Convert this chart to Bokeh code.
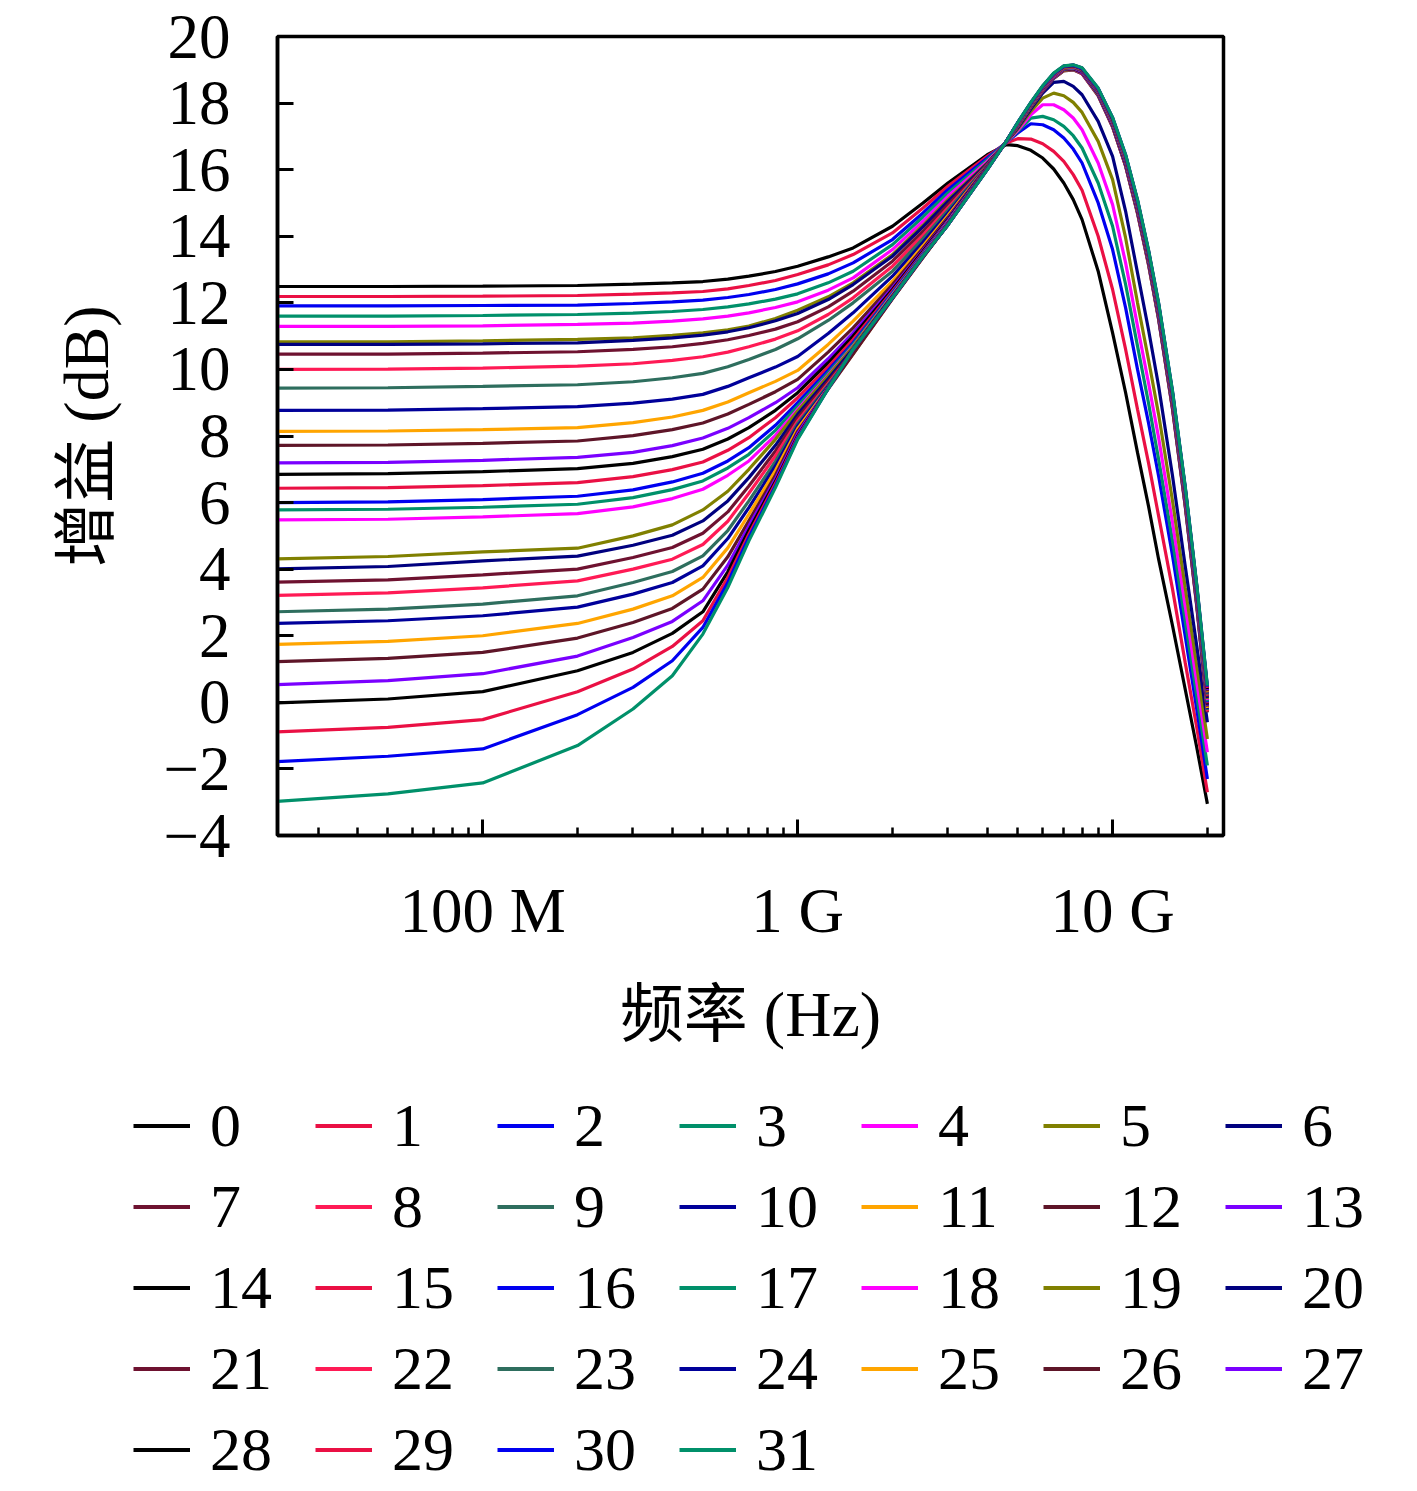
from bokeh.plotting import figure
from bokeh.embed import file_html
from bokeh.resources import INLINE
from bokeh.layouts import column
from bokeh.models import FixedTicker

# frequency points (Hz) and gain curves (dB)
freq_hz = [2.2e7, 5e7, 1e8, 2e8, 3e8, 4e8, 5e8, 6e8, 7e8, 8.5e8, 1e9, 1.25e9, 1.5e9, 2e9, 2.5e9, 3e9, 4e9,
           4.6e9, 5e9, 5.5e9, 6e9, 6.5e9, 7e9, 7.5e9, 8e9, 9e9, 1e10, 1.1e10, 1.2e10, 1.3e10, 1.4e10,
           1.55e10, 1.7e10, 1.85e10, 2e10]

g0 = [12.49, 12.49, 12.50, 12.52, 12.56, 12.60, 12.64, 12.71, 12.80, 12.94, 13.10, 13.38, 13.65, 14.30, 15.00, 15.60, 16.45,
      16.75, 16.72, 16.58, 16.35, 16.02, 15.60, 15.10, 14.50, 12.95, 11.10, 9.30, 7.50, 5.90, 4.30, 2.30, 0.40, -1.35, -3.05]
g1 = [12.19, 12.19, 12.20, 12.22, 12.26, 12.30, 12.34, 12.42, 12.52, 12.67, 12.85, 13.14, 13.45, 14.10, 14.85, 15.50, 16.40,
      16.80, 16.93, 16.92, 16.78, 16.55, 16.25, 15.85, 15.38, 14.00, 12.40, 10.60, 8.80, 7.20, 5.60, 3.40, 1.20, -0.75, -2.70]
g2 = [11.91, 11.91, 11.92, 11.93, 11.98, 12.03, 12.08, 12.16, 12.25, 12.40, 12.57, 12.87, 13.20, 13.90, 14.70, 15.40, 16.35,
      16.82, 17.10, 17.38, 17.35, 17.20, 16.95, 16.62, 16.20, 15.00, 13.60, 11.85, 10.00, 8.40, 6.80, 4.40, 2.00, -0.20, -2.30]
g3 = [11.60, 11.60, 11.62, 11.65, 11.69, 11.74, 11.80, 11.88, 11.97, 12.11, 12.27, 12.60, 12.95, 13.75, 14.58, 15.30, 16.30,
      16.82, 17.15, 17.55, 17.60, 17.50, 17.30, 17.02, 16.65, 15.60, 14.30, 12.55, 10.70, 9.00, 7.30, 4.85, 2.45, 0.20, -1.90]
g4 = [11.29, 11.29, 11.31, 11.35, 11.39, 11.45, 11.52, 11.60, 11.70, 11.86, 12.03, 12.38, 12.75, 13.60, 14.45, 15.20, 16.25,
      16.82, 17.18, 17.65, 17.95, 17.95, 17.80, 17.55, 17.20, 16.20, 14.95, 13.20, 11.30, 9.60, 7.95, 5.40, 2.90, 0.60, -1.50]
g5 = [10.83, 10.83, 10.86, 10.90, 10.95, 11.02, 11.10, 11.19, 11.30, 11.53, 11.78, 12.18, 12.60, 13.45, 14.33, 15.10, 16.20,
      16.83, 17.22, 17.75, 18.15, 18.30, 18.22, 18.02, 17.72, 16.85, 15.70, 13.95, 12.00, 10.30, 8.65, 6.05, 3.45, 1.10, -1.10]
g6 = [10.75, 10.75, 10.77, 10.80, 10.87, 10.95, 11.03, 11.13, 11.25, 11.46, 11.68, 12.10, 12.55, 13.40, 14.28, 15.05, 16.18,
      16.83, 17.26, 17.82, 18.30, 18.62, 18.65, 18.50, 18.25, 17.45, 16.40, 14.75, 12.90, 11.20, 9.50, 6.80, 4.10, 1.70, -0.60]
g7 = [10.46, 10.46, 10.49, 10.53, 10.60, 10.68, 10.78, 10.89, 11.02, 11.21, 11.43, 11.88, 12.35, 13.25, 14.15, 14.95, 16.15,
      16.84, 17.30, 17.88, 18.36, 18.74, 18.97, 19.00, 18.88, 18.22, 17.28, 16.10, 14.68, 13.15, 11.50, 8.80, 5.90, 2.90, -0.30]
g8 = [10.00, 10.01, 10.04, 10.10, 10.17, 10.27, 10.38, 10.52, 10.68, 10.91, 11.16, 11.65, 12.15, 13.10, 14.03, 14.85, 16.14,
      16.84, 17.31, 17.89, 18.37, 18.75, 18.98, 19.01, 18.89, 18.23, 17.29, 16.11, 14.70, 13.17, 11.52, 8.82, 5.93, 2.93, -0.27]
g9 = [9.44, 9.45, 9.49, 9.54, 9.63, 9.75, 9.88, 10.08, 10.30, 10.60, 10.92, 11.47, 12.00, 12.95, 13.93, 14.78, 16.13,
      16.84, 17.31, 17.89, 18.37, 18.75, 18.98, 19.01, 18.90, 18.24, 17.30, 16.13, 14.72, 13.19, 11.54, 8.85, 5.95, 2.95, -0.23]
g10 = [8.77, 8.78, 8.82, 8.88, 8.99, 9.11, 9.25, 9.49, 9.75, 10.07, 10.39, 11.08, 11.70, 12.80, 13.82, 14.70, 16.12,
       16.84, 17.32, 17.90, 18.38, 18.76, 18.99, 19.02, 18.90, 18.25, 17.32, 16.14, 14.73, 13.21, 11.56, 8.87, 5.98, 2.98, -0.20]
g11 = [8.14, 8.15, 8.19, 8.25, 8.40, 8.57, 8.77, 9.02, 9.30, 9.64, 9.97, 10.75, 11.45, 12.65, 13.71, 14.62, 16.11,
       16.84, 17.32, 17.90, 18.39, 18.77, 18.99, 19.02, 18.91, 18.26, 17.33, 16.16, 14.75, 13.22, 11.58, 8.89, 6.00, 3.01, -0.17]
g12 = [7.72, 7.73, 7.78, 7.85, 8.01, 8.19, 8.39, 8.66, 8.95, 9.33, 9.70, 10.52, 11.25, 12.55, 13.64, 14.56, 16.10,
       16.84, 17.33, 17.91, 18.39, 18.77, 19.00, 19.03, 18.92, 18.27, 17.34, 16.17, 14.77, 13.24, 11.60, 8.91, 6.03, 3.04, -0.13]
g13 = [7.19, 7.21, 7.27, 7.36, 7.51, 7.71, 7.94, 8.23, 8.55, 9.00, 9.45, 10.32, 11.10, 12.45, 13.58, 14.52, 16.09,
       16.85, 17.33, 17.92, 18.40, 18.78, 19.01, 19.04, 18.92, 18.28, 17.35, 16.19, 14.79, 13.26, 11.62, 8.94, 6.05, 3.06, -0.10]
g14 = [6.85, 6.87, 6.93, 7.02, 7.18, 7.38, 7.60, 7.91, 8.25, 8.77, 9.30, 10.20, 11.00, 12.40, 13.55, 14.50, 16.08,
       16.85, 17.34, 17.92, 18.41, 18.79, 19.01, 19.04, 18.93, 18.29, 17.36, 16.20, 14.80, 13.28, 11.65, 8.96, 6.08, 3.09, -0.07]
g15 = [6.43, 6.45, 6.51, 6.60, 6.78, 6.99, 7.22, 7.57, 7.95, 8.55, 9.15, 10.08, 10.90, 12.35, 13.51, 14.47, 16.07,
       16.85, 17.34, 17.93, 18.41, 18.79, 19.02, 19.05, 18.94, 18.30, 17.38, 16.22, 14.82, 13.30, 11.67, 8.98, 6.10, 3.12, -0.03]
g16 = [6.00, 6.02, 6.09, 6.19, 6.38, 6.62, 6.88, 7.25, 7.65, 8.32, 9.00, 9.97, 10.80, 12.30, 13.48, 14.45, 16.06,
       16.85, 17.35, 17.93, 18.42, 18.80, 19.03, 19.06, 18.95, 18.31, 17.39, 16.23, 14.84, 13.32, 11.69, 9.01, 6.13, 3.14, 0.00]
g17 = [5.78, 5.80, 5.86, 5.95, 6.15, 6.39, 6.65, 7.04, 7.45, 8.17, 8.90, 9.90, 10.75, 12.27, 13.45, 14.43, 16.05,
       16.85, 17.35, 17.94, 18.43, 18.81, 19.03, 19.06, 18.96, 18.32, 17.40, 16.25, 14.86, 13.34, 11.71, 9.03, 6.15, 3.17, 0.03]
g18 = [5.48, 5.50, 5.57, 5.67, 5.87, 6.12, 6.40, 6.82, 7.25, 8.02, 8.80, 9.83, 10.70, 12.24, 13.43, 14.42, 16.05,
       16.85, 17.36, 17.94, 18.43, 18.81, 19.04, 19.07, 18.96, 18.33, 17.41, 16.26, 14.87, 13.36, 11.73, 9.05, 6.18, 3.20, 0.07]
g19 = [4.31, 4.38, 4.52, 4.63, 5.00, 5.33, 5.78, 6.34, 7.00, 7.90, 8.75, 9.80, 10.68, 12.22, 13.42, 14.40, 16.05,
       16.85, 17.36, 17.95, 18.44, 18.82, 19.05, 19.08, 18.97, 18.34, 17.43, 16.28, 14.89, 13.38, 11.75, 9.08, 6.20, 3.23, 0.10]
g20 = [4.01, 4.08, 4.25, 4.39, 4.72, 5.02, 5.45, 6.05, 6.75, 7.72, 8.65, 9.72, 10.62, 12.20, 13.41, 14.39, 16.05,
       16.85, 17.37, 17.96, 18.45, 18.83, 19.05, 19.08, 18.98, 18.35, 17.44, 16.29, 14.91, 13.39, 11.77, 9.10, 6.23, 3.25, 0.13]
g21 = [3.61, 3.68, 3.83, 4.00, 4.35, 4.65, 5.08, 5.72, 6.50, 7.55, 8.55, 9.64, 10.56, 12.18, 13.40, 14.38, 16.04,
       16.85, 17.37, 17.96, 18.45, 18.83, 19.06, 19.09, 18.99, 18.35, 17.45, 16.30, 14.93, 13.41, 11.79, 9.12, 6.25, 3.28, 0.17]
g22 = [3.21, 3.29, 3.44, 3.65, 4.00, 4.30, 4.74, 5.44, 6.28, 7.40, 8.45, 9.58, 10.52, 12.16, 13.39, 14.37, 16.04,
       16.85, 17.38, 17.97, 18.46, 18.84, 19.06, 19.09, 18.99, 18.36, 17.46, 16.32, 14.94, 13.43, 11.81, 9.14, 6.28, 3.31, 0.20]
g23 = [2.72, 2.80, 2.95, 3.20, 3.60, 3.93, 4.40, 5.16, 6.05, 7.24, 8.37, 9.53, 10.50, 12.15, 13.38, 14.36, 16.03,
       16.85, 17.38, 17.97, 18.47, 18.85, 19.07, 19.10, 19.00, 18.37, 17.47, 16.33, 14.96, 13.45, 11.83, 9.17, 6.30, 3.33, 0.23]
g24 = [2.37, 2.45, 2.60, 2.86, 3.25, 3.60, 4.10, 4.92, 5.85, 7.10, 8.30, 9.49, 10.48, 12.14, 13.37, 14.36, 16.03,
       16.85, 17.39, 17.98, 18.47, 18.85, 19.08, 19.11, 19.01, 18.38, 17.49, 16.35, 14.98, 13.47, 11.85, 9.19, 6.33, 3.36, 0.27]
g25 = [1.74, 1.83, 2.00, 2.37, 2.80, 3.20, 3.75, 4.64, 5.65, 6.96, 8.22, 9.45, 10.47, 12.13, 13.37, 14.35, 16.02,
       16.86, 17.39, 17.98, 18.48, 18.86, 19.08, 19.11, 19.02, 18.39, 17.50, 16.36, 15.00, 13.49, 11.88, 9.21, 6.35, 3.39, 0.30]
g26 = [1.22, 1.32, 1.50, 1.93, 2.40, 2.82, 3.40, 4.37, 5.45, 6.82, 8.14, 9.41, 10.46, 12.12, 13.36, 14.35, 16.02,
       16.86, 17.40, 17.99, 18.49, 18.87, 19.09, 19.12, 19.02, 18.40, 17.51, 16.38, 15.01, 13.51, 11.90, 9.24, 6.38, 3.41, 0.33]
g27 = [0.53, 0.65, 0.86, 1.39, 1.95, 2.43, 3.05, 4.12, 5.30, 6.71, 8.07, 9.45, 10.60, 12.14, 13.39, 14.35, 16.01,
       16.86, 17.40, 18.00, 18.49, 18.87, 19.10, 19.13, 19.03, 18.41, 17.52, 16.39, 15.03, 13.53, 11.92, 9.26, 6.40, 3.44, 0.37]
g28 = [-0.02, 0.10, 0.32, 0.95, 1.50, 2.07, 2.72, 3.92, 5.17, 6.63, 8.00, 9.44, 10.60, 12.14, 13.39, 14.34, 16.01,
       16.86, 17.41, 18.00, 18.50, 18.88, 19.10, 19.13, 19.04, 18.42, 17.53, 16.41, 15.05, 13.54, 11.94, 9.28, 6.43, 3.47, 0.40]
g29 = [-0.89, -0.75, -0.52, 0.32, 1.00, 1.68, 2.45, 3.75, 5.05, 6.57, 7.97, 9.43, 10.60, 12.15, 13.40, 14.34, 16.00,
       16.86, 17.41, 18.01, 18.51, 18.89, 19.11, 19.14, 19.05, 18.43, 17.55, 16.42, 15.07, 13.56, 11.96, 9.30, 6.45, 3.50, 0.43]
g30 = [-1.78, -1.62, -1.40, -0.37, 0.45, 1.25, 2.25, 3.60, 4.95, 6.50, 7.93, 9.42, 10.60, 12.15, 13.40, 14.34, 16.00,
       16.86, 17.42, 18.01, 18.51, 18.89, 19.11, 19.14, 19.05, 18.44, 17.56, 16.44, 15.08, 13.58, 11.98, 9.33, 6.48, 3.52, 0.47]
g31 = [-2.98, -2.75, -2.42, -1.30, -0.20, 0.80, 2.05, 3.45, 4.85, 6.45, 7.90, 9.42, 10.60, 12.15, 13.40, 14.34, 16.00,
       16.86, 17.42, 18.02, 18.52, 18.90, 19.12, 19.15, 19.06, 18.45, 17.57, 16.45, 15.10, 13.60, 12.00, 9.35, 6.50, 3.55, 0.50]

curves = [g0, g1, g2, g3, g4, g5, g6, g7, g8, g9, g10, g11, g12, g13, g14, g15,
          g16, g17, g18, g19, g20, g21, g22, g23, g24, g25, g26, g27, g28, g29, g30, g31]
labels = [str(i) for i in range(len(curves))]

# colour cycle used by the curves (repeats every 14)
palette = ["#000000", "#ea1044", "#0000f0", "#00906a", "#ff00ff", "#808000", "#00007f",
           "#6e1230", "#ff1a55", "#2e6e5e", "#00009a", "#ffa500", "#5e1528", "#7a00ff"]

y_ticks = [-4, -2, 0, 2, 4, 6, 8, 10, 12, 14, 16, 18, 20]
x_ticks = [1e8, 1e9, 1e10]
x_tick_labels = {1e8: "100 M", 1e9: "1 G", 1e10: "10 G"}
x_minor = [m * d for d in (1e7, 1e8, 1e9) for m in range(2, 10)] + [2e10]

SERIF = "Liberation Serif, Noto Sans CJK SC"
W = 1401
H_PLOT = 1075
H_LEG = 416

p = figure(
    width=W, height=H_PLOT,
    x_axis_type="log",
    x_range=(2.23e7, 2.25e10), y_range=(-4, 20),
    output_backend="svg", toolbar_location=None, tools="",
    min_border_left=277, min_border_right=178,
    min_border_top=36, min_border_bottom=H_PLOT - 36 - 799,
    x_axis_label="频率 (Hz)", y_axis_label="增益 (dB)",
)
p.frame_align = False

for i, g in enumerate(curves):
    p.line(freq_hz, g, color=palette[i % len(palette)], line_width=3.2)

p.xgrid.visible = False
p.ygrid.visible = False
p.outline_line_color = "black"
p.outline_line_width = 3.5
p.background_fill_color = "white"
p.border_fill_color = "white"

p.xaxis.ticker = FixedTicker(ticks=x_ticks, minor_ticks=x_minor)
p.xaxis.major_label_overrides = x_tick_labels
p.yaxis.ticker = FixedTicker(ticks=y_ticks)
p.yaxis.major_label_overrides = {-4: "\u22124", -2: "\u22122"}

for ax in (p.xaxis, p.yaxis):
    ax.axis_line_width = 3.5
    ax.axis_line_color = "black"
    ax.major_tick_in = 16
    ax.major_tick_out = 0
    ax.major_tick_line_width = 3
    ax.minor_tick_in = 8
    ax.minor_tick_out = 0
    ax.minor_tick_line_width = 2.5
    ax.major_label_text_font = SERIF
    ax.major_label_text_font_size = "63px"
    ax.major_label_text_color = "black"
    ax.axis_label_text_font = SERIF
    ax.axis_label_text_font_size = "64px"
    ax.axis_label_text_font_style = "normal"
    ax.axis_label_text_color = "black"

p.yaxis.minor_tick_line_color = None
p.xaxis.major_label_standoff = 40
p.xaxis.axis_label_standoff = 30
p.yaxis.major_label_standoff = 47
p.yaxis.axis_label_standoff = 38

# legend strip under the chart: same curves, kept out of view, legend only
leg = figure(
    width=W, height=H_LEG, x_axis_type="log",
    x_range=(2.23e7, 2.25e10), y_range=(100, 101),
    output_backend="svg", toolbar_location=None, tools="",
    x_axis_location=None, y_axis_location=None,
    min_border=0, min_border_left=0, min_border_right=0,
    min_border_top=0, min_border_bottom=0,
)
leg.frame_align = False
leg.outline_line_color = None
leg.xgrid.visible = False
leg.ygrid.visible = False
for i, g in enumerate(curves):
    leg.line(freq_hz, g, color=palette[i % len(palette)], line_width=4.2,
             legend_label=labels[i])

lg = leg.legend[0]
lg.ncols = 7
lg.nrows = 5
lg.orientation = "horizontal"
lg.location = (133, 6)
lg.label_text_font = SERIF
lg.label_text_font_size = "62px"
lg.label_text_color = "black"
lg.glyph_width = 57
lg.glyph_height = 71
lg.label_height = 71
lg.label_width = 95
lg.label_standoff = 20
lg.spacing = 10
lg.padding = 0
lg.margin = 0
lg.border_line_color = None
lg.background_fill_alpha = 0

open("out.html", "w").write(file_html(column(p, leg, spacing=0), INLINE))
